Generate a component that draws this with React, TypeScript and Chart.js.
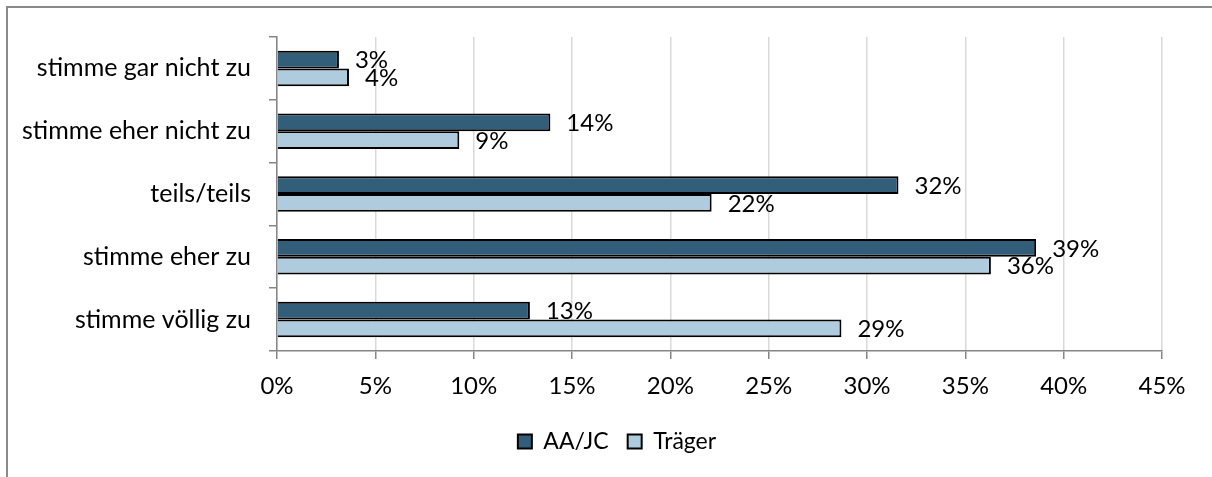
import React, { useEffect, useRef } from 'react';
import { Chart, registerables } from 'chart.js';

Chart.register(...registerables);

const categories = [
  'stimme gar nicht zu',
  'stimme eher nicht zu',
  'teils/teils',
  'stimme eher zu',
  'stimme völlig zu',
];
const seriesNames = ['AA/JC', 'Träger'];
const aaJcValues = [3.15, 13.9, 31.6, 38.6, 12.86];
const traegerValues = [3.66, 9.27, 22.1, 36.3, 28.7];
const xMin = 0;
const xMax = 45;
const xStep = 5;

const FONT = 'Lato, "Noto Sans", sans-serif';
const FS = 24;
const FS_CAT = 25;
const FS_LEG = 23;
const DARK = '#335E7A';
const LIGHT = '#AFCCDF';
const AXIS = '#868686';
const GRID = '#d9d9d9';

const dataLabelPlugin = {
  id: 'dataLabels',
  afterDatasetsDraw(chart: any) {
    const ctx = chart.ctx;
    ctx.save();
    ctx.font = `${FS}px ${FONT}`;
    ctx.fillStyle = '#000';
    ctx.textAlign = 'left';
    ctx.textBaseline = 'middle';
    chart.data.datasets.forEach((ds: any, i: number) => {
      const meta = chart.getDatasetMeta(i);
      meta.data.forEach((bar: any, j: number) => {
        const v = ds.data[j] as number;
        ctx.fillText(Math.round(v) + '%', bar.x + 16, bar.y + 1);
      });
    });
    ctx.restore();
  },
};

const legendShiftPlugin = {
  id: 'legendShift',
  afterLayout(chart: any) {
    const lg = chart.legend;
    if (lg) {
      lg.left += 36;
      lg.right += 36;
    }
  },
};

export default function App() {
  const ref = useRef<HTMLCanvasElement | null>(null);

  useEffect(() => {
    if (!ref.current) return;
    const chart = new Chart(ref.current, {
      type: 'bar',
      data: {
        labels: categories,
        datasets: [
          {
            label: seriesNames[0],
            data: aaJcValues,
            backgroundColor: DARK,
            borderColor: '#000',
            borderWidth: 2,
            categoryPercentage: 0.565,
            barPercentage: 1,
          },
          {
            label: seriesNames[1],
            data: traegerValues,
            backgroundColor: LIGHT,
            borderColor: '#000',
            borderWidth: 2,
            categoryPercentage: 0.565,
            barPercentage: 1,
          },
        ],
      },
      options: {
        indexAxis: 'y',
        animation: false,
        responsive: false,
        maintainAspectRatio: false,
        layout: { padding: { left: 0, right: 50, top: 37, bottom: 14 } },
        font: { family: FONT, size: FS },
        plugins: {
          tooltip: { enabled: false },
          legend: {
            position: 'bottom',
            labels: {
              font: { family: FONT, size: FS_LEG },
              color: '#000',
              boxWidth: 14,
              boxHeight: 14,
              padding: 19,
            },
          },
        },
        scales: {
          x: {
            min: xMin,
            max: xMax,
            ticks: {
              stepSize: xStep,
              callback: (v: any) => v + '%',
              font: { family: FONT, size: FS },
              color: '#000',
              padding: 13,
            },
            grid: {
              color: GRID,
              lineWidth: 1.5,
              tickColor: AXIS,
              tickLength: 8,
            },
            border: { color: AXIS, width: 1.5 },
            afterFit: (s: any) => {
              s.height = 60;
            },
          },
          y: {
            ticks: {
              font: { family: FONT, size: FS_CAT },
              color: '#000',
              padding: 18,
            },
            grid: {
              drawOnChartArea: false,
              tickColor: AXIS,
              color: AXIS,
              tickLength: 8,
              lineWidth: 1.5,
              offset: true,
            },
            border: { color: AXIS, width: 1.5 },
            afterFit: (s: any) => {
              s.width = 277;
            },
          },
        },
      } as any,
      plugins: [dataLabelPlugin, legendShiftPlugin],
    });
    return () => chart.destroy();
  }, []);

  return (
    <div
      style={{
        position: 'fixed',
        left: 0,
        top: 0,
        width: 1212,
        height: 477,
        overflow: 'hidden',
        background: '#fff',
      }}
    >
      <div
        style={{
          position: 'absolute',
          left: 6,
          top: 6,
          width: 1400,
          height: 700,
          border: '2px solid #8a8a8a',
          boxSizing: 'border-box',
        }}
      />
      <canvas
        ref={ref}
        width={1212}
        height={477}
        style={{ position: 'absolute', left: 0, top: 0, width: 1212, height: 477 }}
      />
    </div>
  );
}
